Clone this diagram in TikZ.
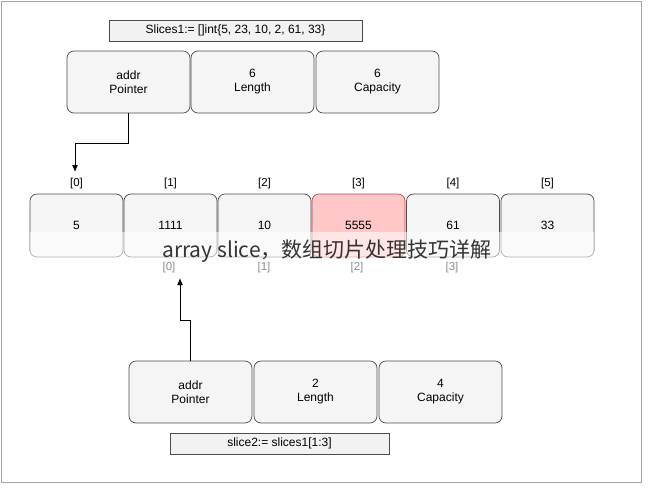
\documentclass[tikz,border=0pt]{standalone}
\usepackage{fontspec}
\usetikzlibrary{arrows.meta}
\setmainfont{Liberation Sans}
\newfontfamily\cjk{Noto Sans CJK SC}
\begin{document}
\begin{tikzpicture}[x=1pt,y=-1pt,
  rb/.style={draw=black!70,fill=black!4,rounded corners=7pt,line width=0.7pt,align=center,font=\fontsize{12}{14}\selectfont,inner sep=0pt},
  lbl/.style={draw=black!70,fill=black!5,line width=0.7pt,font=\fontsize{12}{14}\selectfont,inner sep=0pt},
  idx/.style={font=\fontsize{11.5}{13}\selectfont},
  gidx/.style={font=\fontsize{11.5}{13}\selectfont,text=black!45},
  arr/.style={draw,line width=1pt,-{Latex[length=7pt,width=6pt]}}]
\useasboundingbox (0,0) rectangle (654,490);
\draw[black!35,line width=1pt] (1,1) -- (641,1) -- (641,482) -- (1,482) -- cycle;
% top
\node[lbl,minimum width=253pt,minimum height=21pt] (t1) at (235.5,30.5) {Slices1:= []int\{5, 23, 10, 2, 61, 33\}};
\node[rb,minimum width=123pt,minimum height=62pt] (p1) at (128.5,82) {addr\\Pointer};
\node[rb,minimum width=123pt,minimum height=62pt] (l1) at (252.5,82) {6\\Length};
\node[rb,minimum width=123pt,minimum height=62pt] (c1) at (377.5,82) {6\\Capacity};
% array
\foreach \i/\x/\v in {0/76.5/5,1/170.5/1111,2/264.5/10,4/453/61,5/547.5/33}{
  \node[rb,minimum width=93pt,minimum height=63pt] (a\i) at (\x,225.5) {\v};
  \node[idx] (i\i) at (\x,184) {[\i]};
}
\node[rb,draw=red!60!black!70,fill=red!22,minimum width=93pt,minimum height=63pt] (a3) at (358.5,225.5) {5555};
\node[idx] (i3) at (358.5,184) {[3]};
\foreach \j/\x in {0/169,1/264,2/357,3/452}{\node[gidx] (g\j) at (\x,268) {[\j]};}
% bottom
\node[rb,minimum width=123pt,minimum height=62pt] (p2) at (190.5,392) {addr\\Pointer};
\node[rb,minimum width=123pt,minimum height=62pt] (l2) at (315.5,392) {2\\Length};
\node[rb,minimum width=123pt,minimum height=62pt] (c2) at (440.5,392) {4\\Capacity};
\node[lbl,minimum width=219pt,minimum height=21pt] (t2) at (279.5,443.5) {slice2:= slices1[1:3]};
% arrows
\coordinate (e1) at (75,172);
\coordinate (e2) at (180,278);
\draw[arr] (p1.south) -- ++(0,30) -| (e1);
\draw[arr] (p2.north) -- ++(0,-40) -| (e2);
% watermark
\fill[white,opacity=0.55] (30,232) rectangle (594,262);
\node[font=\cjk\fontsize{21}{24}\selectfont,text=black!80] (wm) at (327,251) {array slice，数组切片处理技巧详解};
\end{tikzpicture}
\end{document}
